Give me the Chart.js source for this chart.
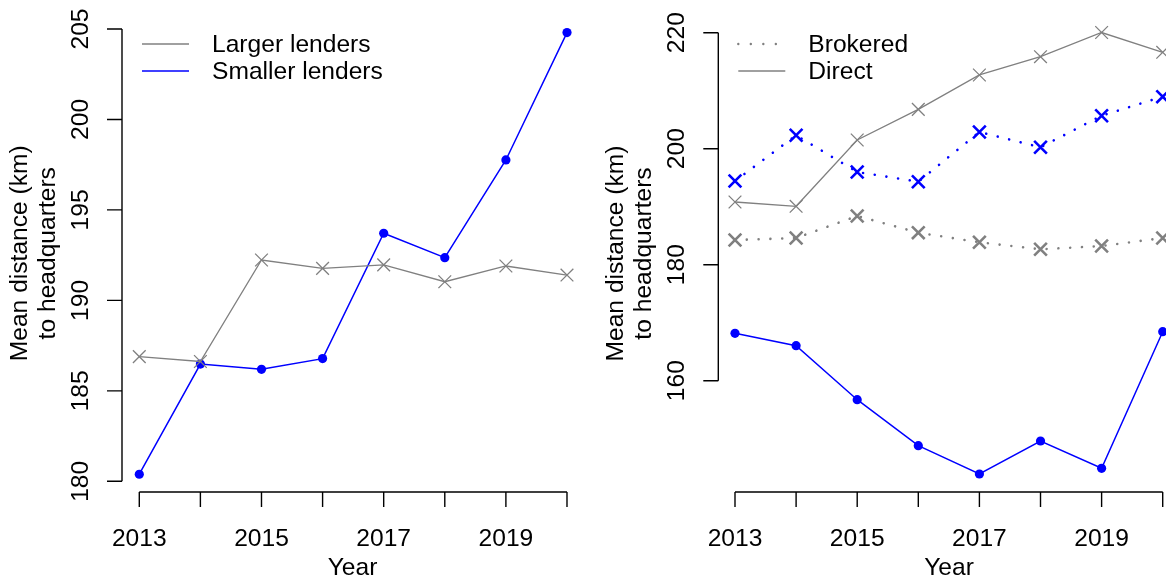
<!DOCTYPE html>
<html>
<head>
<meta charset="utf-8">
<script src="https://cdn.jsdelivr.net/npm/chart.js@4/dist/chart.umd.min.js"></script>
<style>
  html, body { margin: 0; padding: 0; background: #fff; overflow: hidden; width: 1166px; height: 579px; }
  canvas { position: absolute; top: 0; }
  #left { left: 0; }
  #right { left: 583px; }
</style>
</head>
<body>
<canvas id="left" width="583" height="579"></canvas>
<canvas id="right" width="600" height="579"></canvas>
<script>
// ---- data ----
const years = [2013, 2014, 2015, 2016, 2017, 2018, 2019, 2020];
const yearTickLabels = ['2013', '2015', '2017', '2019'];

// left panel: mean distance by lender size
const largerLenders  = [186.89, 186.62, 192.23, 191.77, 191.96, 191.03, 191.90, 191.40];
const smallerLenders = [180.39, 186.48, 186.19, 186.78, 193.71, 192.36, 197.76, 204.80];
const leftYTicks = [180, 185, 190, 195, 200, 205];
const leftLegendLabels = ['Larger lenders', 'Smaller lenders'];

// right panel: split by channel
const largerDirect    = [190.81, 190.07, 201.50, 206.79, 212.71, 215.86, 220.03, 216.62];
const largerBrokered  = [184.26, 184.60, 188.40, 185.52, 183.86, 182.66, 183.22, 184.60];
const smallerDirect   = [168.17, 166.03, 156.72, 148.79, 143.91, 149.60, 144.90, 168.45];
const smallerBrokered = [194.43, 202.31, 195.98, 194.31, 202.88, 200.24, 205.69, 208.97];
const rightYTicks = [160, 180, 200, 220];
const rightLegendLabels = ['Brokered', 'Direct'];

const yAxisTitle = ['Mean distance (km)', 'to headquarters'];
const xAxisTitle = 'Year';

// ---- styling ----
const GREY = '#808080';
const BLUE = '#0000ff';
const FONT = '24.6px "Liberation Sans", Arial, sans-serif';
const TICK = 15;
const DOTS = [0.01, 11.8];

const pts = vals => years.map((y, i) => ({ x: y, y: vals[i] }));

function solidLine(label, vals, color, width) {
  return { label, data: pts(vals), borderColor: color, borderWidth: width, pointRadius: 0, fill: false, tension: 0 };
}

// Base R style axes: lines that span only the tick range, rotated y labels
function baseAxes(yTicks, legendItems) {
  return {
    id: 'baseAxes',
    afterDraw(chart) {
      const ctx = chart.ctx, xs = chart.scales.x, ys = chart.scales.y, a = chart.chartArea;
      ctx.save();
      ctx.strokeStyle = '#000';
      ctx.fillStyle = '#000';
      ctx.lineWidth = 1.4;
      ctx.font = FONT;

      // x axis
      const yb = a.bottom;
      ctx.beginPath();
      ctx.moveTo(xs.getPixelForValue(years[0]), yb);
      ctx.lineTo(xs.getPixelForValue(years[years.length - 1]), yb);
      years.forEach(v => {
        const px = xs.getPixelForValue(v);
        ctx.moveTo(px, yb);
        ctx.lineTo(px, yb + TICK);
      });
      ctx.stroke();
      ctx.textAlign = 'center';
      ctx.textBaseline = 'alphabetic';
      yearTickLabels.forEach(t => {
        ctx.fillText(t, xs.getPixelForValue(Number(t)), 546);
      });
      ctx.fillText(xAxisTitle, (a.left + a.right) / 2, 575);

      // y axis
      const xl = a.left;
      ctx.beginPath();
      ctx.moveTo(xl, ys.getPixelForValue(yTicks[0]));
      ctx.lineTo(xl, ys.getPixelForValue(yTicks[yTicks.length - 1]));
      yTicks.forEach(v => {
        const py = ys.getPixelForValue(v);
        ctx.moveTo(xl, py);
        ctx.lineTo(xl - TICK, py);
      });
      ctx.stroke();
      yTicks.forEach(v => {
        ctx.save();
        ctx.translate(xl - 34.5, ys.getPixelForValue(v));
        ctx.rotate(-Math.PI / 2);
        ctx.fillText(String(v), 0, 0);
        ctx.restore();
      });
      const midY = (a.top + a.bottom) / 2;
      yAxisTitle.forEach((t, i) => {
        ctx.save();
        ctx.translate(xl - 95 + i * 28, midY);
        ctx.rotate(-Math.PI / 2);
        ctx.fillText(t, 0, 0);
        ctx.restore();
      });

      // legend
      legendItems.forEach((it, i) => {
        const ly = 44 + i * 27;
        ctx.save();
        ctx.strokeStyle = it.color;
        ctx.lineWidth = it.width;
        ctx.lineCap = it.dash ? 'round' : 'butt';
        ctx.setLineDash(it.dash || []);
        ctx.beginPath();
        ctx.moveTo(xl + 20, ly);
        ctx.lineTo(xl + 67, ly);
        ctx.stroke();
        ctx.restore();
        ctx.textAlign = 'left';
        ctx.textBaseline = 'middle';
        ctx.fillText(it.label, xl + 90, ly + 1);
      });
      ctx.restore();
    }
  };
}

function makeChart(id, datasets, xr, yr, padding, yTicks, legendItems) {
  return new Chart(document.getElementById(id), {
    type: 'line',
    data: { datasets },
    options: {
      responsive: false,
      animation: false,
      devicePixelRatio: 1,
      layout: { padding, autoPadding: false },
      plugins: { legend: { display: false }, tooltip: { enabled: false } },
      scales: {
        x: { type: 'linear', display: false, min: xr[0], max: xr[1] },
        y: { type: 'linear', display: false, min: yr[0], max: yr[1] }
      }
    },
    plugins: [baseAxes(yTicks, legendItems)]
  });
}

// left panel
makeChart('left', [
  Object.assign(solidLine('Larger lenders', largerLenders, GREY, 1.3), {
    pointStyle: 'crossRot', pointRadius: 9, pointBorderColor: GREY, pointBorderWidth: 1.3
  }),
  Object.assign(solidLine('Smaller lenders', smallerLenders, BLUE, 1.5), {
    pointStyle: 'circle', pointRadius: 4.6, pointBackgroundColor: BLUE, pointBorderWidth: 0
  })
], [2012.717, 2020.262], [179.408, 205.8],
  { left: 122, right: 0, top: 14.5, bottom: 87 }, leftYTicks,
  [
    { label: leftLegendLabels[0], color: GREY, width: 1.3 },
    { label: leftLegendLabels[1], color: BLUE, width: 1.5 }
  ]);

// right panel
makeChart('right', [
  Object.assign(solidLine('Larger direct', largerDirect, GREY, 1.3), {
    pointStyle: 'crossRot', pointRadius: 9, pointBorderColor: GREY, pointBorderWidth: 1.3
  }),
  Object.assign(solidLine('Larger brokered', largerBrokered, GREY, 2.6), {
    borderDash: DOTS, borderCapStyle: 'round',
    pointStyle: 'crossRot', pointRadius: 9, pointBorderColor: GREY, pointBorderWidth: 2.6
  }),
  Object.assign(solidLine('Smaller brokered', smallerBrokered, BLUE, 2.6), {
    borderDash: DOTS, borderCapStyle: 'round',
    pointStyle: 'crossRot', pointRadius: 9, pointBorderColor: BLUE, pointBorderWidth: 2.6
  }),
  Object.assign(solidLine('Smaller direct', smallerDirect, BLUE, 1.5), {
    pointStyle: 'circle', pointRadius: 4.6, pointBackgroundColor: BLUE, pointBorderWidth: 0
  })
], [2012.7267, 2020.278], [140.81, 223.05],
  { left: 135.3, right: 3.3, top: 15, bottom: 87 }, rightYTicks,
  [
    { label: rightLegendLabels[0], color: GREY, width: 2.4, dash: [0.01, 12.5] },
    { label: rightLegendLabels[1], color: GREY, width: 1.3 }
  ]);
</script>
</body>
</html>
